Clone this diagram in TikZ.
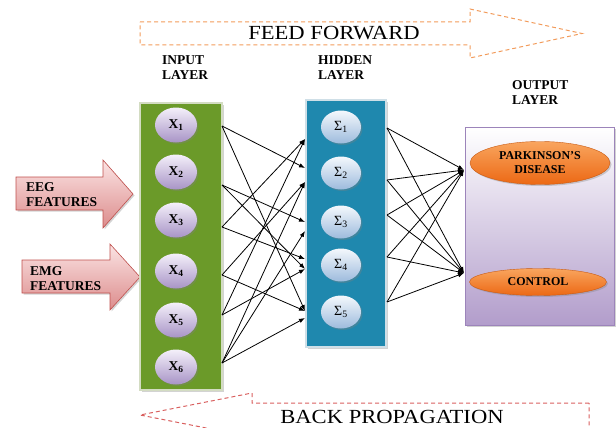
\documentclass[tikz,border=0pt]{standalone}
\usepackage{fontspec}
\setmainfont{Liberation Serif}
\usetikzlibrary{arrows.meta,shapes.geometric,shadows}
\definecolor{inpgreen}{HTML}{6B9A29}
\definecolor{inpedge}{HTML}{D3DCC2}
\definecolor{hidblue}{HTML}{1F88AE}
\definecolor{hidedge}{HTML}{CFDFE7}
\definecolor{lavtop}{HTML}{F4F0FA}
\definecolor{lavbot}{HTML}{A894C6}
\definecolor{bluetop}{HTML}{F4F8FC}
\definecolor{bluebot}{HTML}{9DBBDD}
\definecolor{outedge}{HTML}{9C84BA}
\definecolor{outbot}{HTML}{B29DCB}
\definecolor{orgtop}{HTML}{F9A55E}
\definecolor{orgbot}{HTML}{EC6814}
\definecolor{orgedge}{HTML}{C85A12}
\definecolor{ffcol}{HTML}{F29B5B}
\definecolor{bpcol}{HTML}{D9605F}
\definecolor{pinktop}{HTML}{FBE4E4}
\definecolor{pinkbot}{HTML}{DC8C8C}
\definecolor{pinkedge}{HTML}{C0504D}
\newcommand{\widetext}[1]{\scalebox{1.13}[1]{#1}}
\tikzset{
  >={Latex[length=6pt,width=4.5pt]},
  softshadow/.style={drop shadow={opacity=0.35,shadow xshift=1.5pt,shadow yshift=-1.5pt}},
  layerbox/.style={rectangle,inner sep=0pt,line width=1.8pt,softshadow},
  incirc/.style={ellipse,inner sep=0pt,minimum width=42,minimum height=35,top color=lavtop,bottom color=lavbot,softshadow,font=\bfseries\fontsize{13.5}{13.5}\selectfont},
  hidcirc/.style={ellipse,inner sep=0pt,minimum width=40,minimum height=33,top color=bluetop,bottom color=bluebot,softshadow,font=\fontsize{14}{14}\selectfont},
  outcirc/.style={ellipse,inner sep=0pt,draw=orgedge,line width=0.4pt,top color=orgtop,bottom color=orgbot,softshadow,align=center,font=\bfseries\fontsize{12}{14}\selectfont},
  lab/.style={inner sep=0pt,align=left,font=\bfseries\fontsize{13.5}{15}\selectfont},
  biglab/.style={inner sep=0pt,font=\fontsize{20}{20}\selectfont},
  flowarr/.style={line width=1pt,dash pattern=on 4pt off 3pt},
  featarr/.style={draw=pinkedge,line width=0.6pt,top color=pinktop,bottom color=pinkbot,softshadow},
  link/.style={->,line width=0.8pt,black},
}
\begin{document}
\begin{tikzpicture}[x=1pt,y=-1pt]
\useasboundingbox (0,0) rectangle (616,428);
\clip (0,0) rectangle (616,428);
% direction arrows
\draw[flowarr,draw=ffcol] (140,22) -- (470,22) -- (470,9) -- (582,33.5) -- (470,58) -- (470,45) -- (140,45) -- cycle;
\node[biglab] (ff) at (334,33.5) {\widetext{FEED FORWARD}};
\draw[flowarr,draw=bpcol] (589,403) -- (252,403) -- (252,393) -- (140,415) -- (252,437) -- (252,431) -- (589,431) -- cycle;
\node[biglab] (bp) at (392,416.5) {\widetext{BACK PROPAGATION}};
% layer titles
\node[lab,anchor=north west] (inlab) at (162,55.6) {INPUT\\LAYER};
\node[lab,anchor=north west] (hidlab) at (318,55.6) {HIDDEN\\LAYER};
\node[lab,anchor=north west] (outlab) at (512,80.6) {OUTPUT\\LAYER};
% feature arrows
\draw[featarr] (16,177) -- (103,177) -- (103,160) -- (133,194) -- (103,228) -- (103,210) -- (16,210) -- cycle;
\draw[featarr] (22,260) -- (110,260) -- (110,244) -- (140,277) -- (110,310) -- (110,293) -- (22,293) -- cycle;
\node[lab,anchor=north west] (eeg) at (26,182.6) {EEG\\FEATURES};
\node[lab,anchor=north west] (emg) at (30,266.6) {EMG\\FEATURES};
% layers
\node[layerbox,draw=inpedge,fill=inpgreen,minimum width=82,minimum height=287] (inlayer) at (181,246.5) {};
\node[layerbox,draw=hidedge,fill=hidblue,minimum width=80,minimum height=247] (hidlayer) at (346,223.5) {};
\node[rectangle,inner sep=0pt,draw=outedge,line width=1pt,top color=white,bottom color=outbot,softshadow,minimum width=149,minimum height=198] (outlayer) at (539.5,226) {};
\foreach \i/\y in {1/125,2/172,3/220,4/271,5/320,6/367}
  \node[incirc] (x\i) at (176,\y) {X\textsubscript{\i}};
\foreach \i/\y in {1/127,2/173,3/222,4/265,5/312}
  \node[hidcirc] (h\i) at (341,\y) {Σ\textsubscript{\i}};
\node[outcirc,minimum width=140,minimum height=43] (pd) at (540,163) {PARKINSON’S\\DISEASE};
\node[outcirc,minimum width=137,minimum height=27] (ctrl) at (538,282) {CONTROL};
% ports
\foreach \i/\y in {1/126,2/185,3/227,4/275,5/315,6/363}
  \coordinate (s\i) at (222,\y);
\foreach \i/\y in {1/139,2/168,3/182,4/222,5/231,6/259,7/269,8/311,9/318}
  \coordinate (e\i) at (305,\y);
\foreach \i/\y in {1/128,2/180,3/215,4/257,5/302}
  \coordinate (r\i) at (387,\y);
\coordinate (o1) at (464,170);
\coordinate (o2) at (464,273);
% connections
\foreach \a/\b in {1/2,1/8,2/4,2/7,3/1,3/6,4/3,4/8,5/1,5/7,6/3,6/5,6/9}
  \draw[link] (s\a) -- (e\b);
\foreach \a in {1,...,5}{
  \draw[link] (r\a) -- (o1);
  \draw[link] (r\a) -- (o2);}
\end{tikzpicture}
\end{document}
